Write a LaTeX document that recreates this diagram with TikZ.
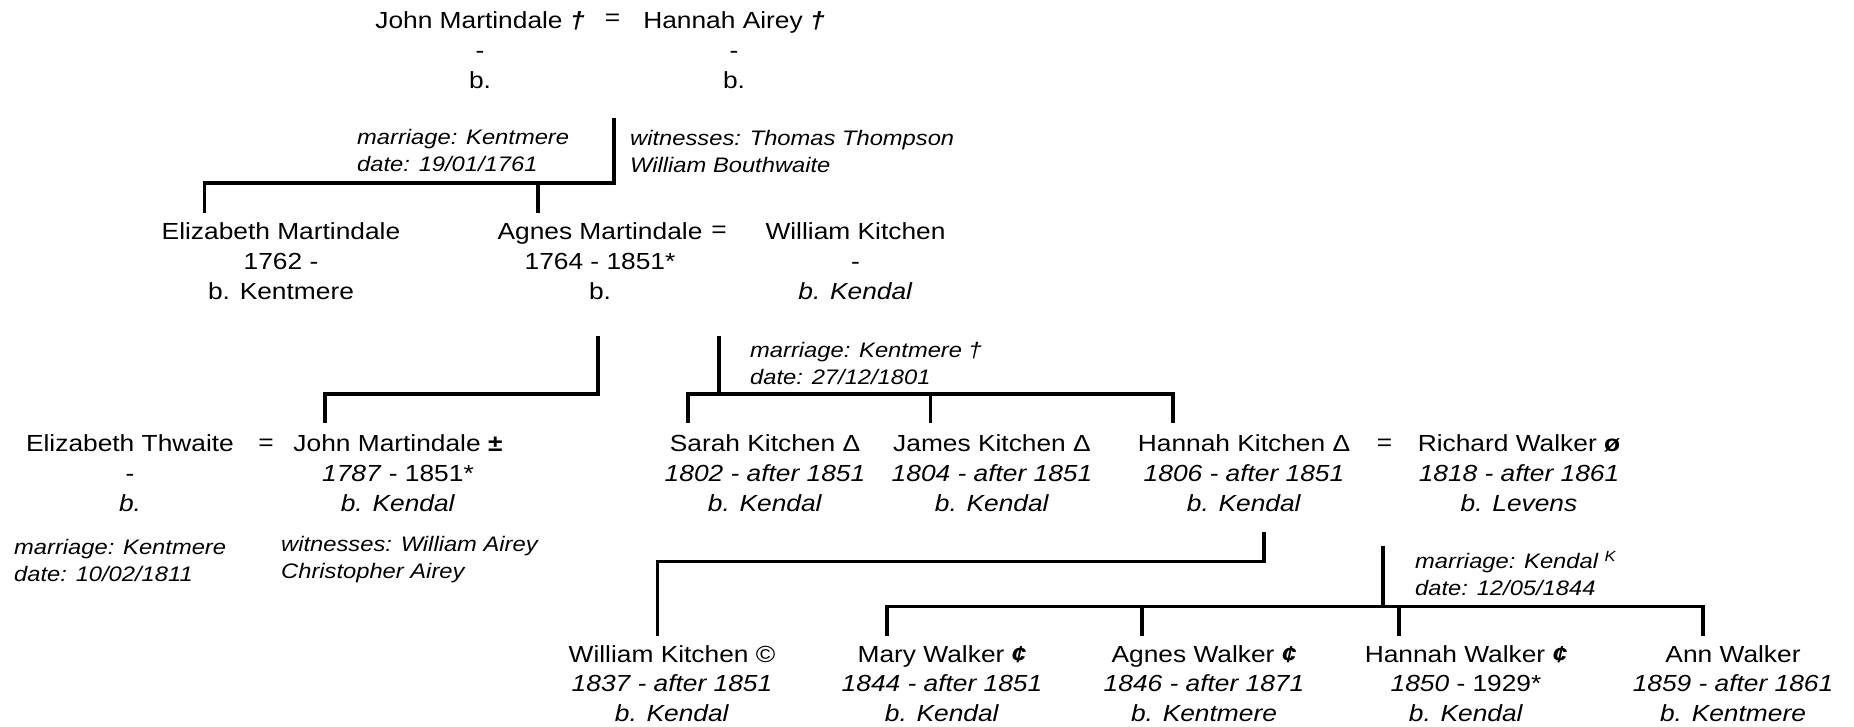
\documentclass[tikz,border=0pt]{standalone}
\usepackage{fontspec}
\setmainfont{Liberation Sans}[FakeStretch=1.13]

\begin{document}
\begin{tikzpicture}[x=1pt, y=-1pt,
    every node/.style={font=\fontsize{23.3}{29.7}\selectfont, inner sep=0pt},
    person/.style={align=center},
    note/.style={align=left, anchor=west, font=\fontsize{21}{27}\selectfont\itshape},
    line/.style={line width=3.2pt}]
    % Fix the page size
    \useasboundingbox (0,0) rectangle (1854,727);

    % Define the points where each family line starts
    \coordinate (f1) at (614,118);
    \coordinate (f1bar) at (614,183);
    \coordinate (f2) at (598,336);
    \coordinate (f2bar) at (598,394);
    \coordinate (f3) at (719,336);
    \coordinate (f3bar) at (719,394);
    \coordinate (f4) at (1264,532);
    \coordinate (f4bar) at (1264,561.6);
    \coordinate (f5) at (1383,546);
    \coordinate (f5bar) at (1383,606.6);

    % Define the ends of the lines down to the children
    \coordinate (c-elizm) at (204.5,213);
    \coordinate (c-agnes) at (538,213);
    \coordinate (c-johnm) at (325,423);
    \coordinate (c-sarah) at (688,423);
    \coordinate (c-james) at (930.5,423);
    \coordinate (c-hannahk) at (1173,423);
    \coordinate (c-wk) at (657.4,636);
    \coordinate (c-mary) at (887,636);
    \coordinate (c-agnesw) at (1142,636);
    \coordinate (c-hannahw) at (1399,636);
    \coordinate (c-ann) at (1703,636);

    % First generation
    \node[person] (john) at (480,50) {John Martindale \textbf{\textit{†}}\\-\\b.};
    \node (eq1) at (612.5,20) {=};
    \node[person] (hannah) at (734,50) {Hannah Airey \textbf{\textit{†}}\\-\\b.};
    \node[note] (m1) at (357,151) {marriage: Kentmere\\date: 19/01/1761};
    \node[note] (w1) at (630,151) {witnesses: Thomas Thompson\\William Bouthwaite};

    % Second generation
    \node[person] (elizm) at (281,261) {Elizabeth Martindale\\1762 -\\b. Kentmere};
    \node[person] (agnes) at (600,261) {Agnes Martindale\\1764 - 1851*\\b.};
    \node (eq2) at (719,232) {=};
    \node[person] (wkitchen) at (855.5,261) {William Kitchen\\-\\\textit{b. Kendal}};
    \node[note] (m2) at (750,363) {marriage: Kentmere †\\date: 27/12/1801};

    % Third generation
    \node[person] (elizt) at (130,473) {Elizabeth Thwaite\\-\\\textit{b.}};
    \node (eq3) at (266,444.5) {=};
    \node[person] (johnm) at (398,473) {John Martindale \textbf{±}\\\textit{1787} - 1851*\\\textit{b. Kendal}};
    \node[person] (sarah) at (765,473) {Sarah Kitchen Δ\\\textit{1802 - after 1851}\\\textit{b. Kendal}};
    \node[person] (james) at (992,473) {James Kitchen Δ\\\textit{1804 - after 1851}\\\textit{b. Kendal}};
    \node[person] (hannahk) at (1244,473) {Hannah Kitchen Δ\\\textit{1806 - after 1851}\\\textit{b. Kendal}};
    \node (eq4) at (1384.5,444.5) {=};
    \node[person] (richard) at (1519,473) {Richard Walker \textbf{ø}\\\textit{1818 - after 1861}\\\textit{b. Levens}};
    \node[note] (m3) at (14,560) {marriage: Kentmere\\date: 10/02/1811};
    \node[note] (w3) at (281,560) {witnesses: William Airey\\Christopher Airey};
    \node[note] (m4) at (1415,573.5) {marriage: Kendal \textsuperscript{K}\\date: 12/05/1844};

    % Fourth generation
    \node[person] (wk2) at (672,683.5) {William Kitchen ©\\\textit{1837 - after 1851}\\\textit{b. Kendal}};
    \node[person] (mary) at (942,683.5) {Mary Walker \textbf{\textit{¢}}\\\textit{1844 - after 1851}\\\textit{b. Kendal}};
    \node[person] (agnesw) at (1204,683.5) {Agnes Walker \textbf{\textit{¢}}\\\textit{1846 - after 1871}\\\textit{b. Kentmere}};
    \node[person] (hannahw) at (1466,683.5) {Hannah Walker \textbf{\textit{¢}}\\\textit{1850} - 1929*\\\textit{b. Kendal}};
    \node[person] (ann) at (1733,683.5) {Ann Walker\\\textit{1859 - after 1861}\\\textit{b. Kentmere}};

    % Draw family lines
    \draw[line] (f1) -- (f1bar) -| (c-elizm);
    \draw[line] (f1bar -| c-agnes) -- (c-agnes);
    \draw[line] (f2) -- (f2bar) -| (c-johnm);
    \draw[line] (f3) -- (f3bar);
    \draw[line] (c-sarah) |- (f3bar -| c-hannahk) -- (c-hannahk);
    \draw[line] (f3bar -| c-james) -- (c-james);
    \draw[line] (f4) -- (f4bar) -| (c-wk);
    \draw[line] (f5) -- (f5bar);
    \draw[line] (c-mary) |- (f5bar -| c-ann) -- (c-ann);
    \draw[line] (f5bar -| c-agnesw) -- (c-agnesw);
    \draw[line] (f5bar -| c-hannahw) -- (c-hannahw);
\end{tikzpicture}
\end{document}
